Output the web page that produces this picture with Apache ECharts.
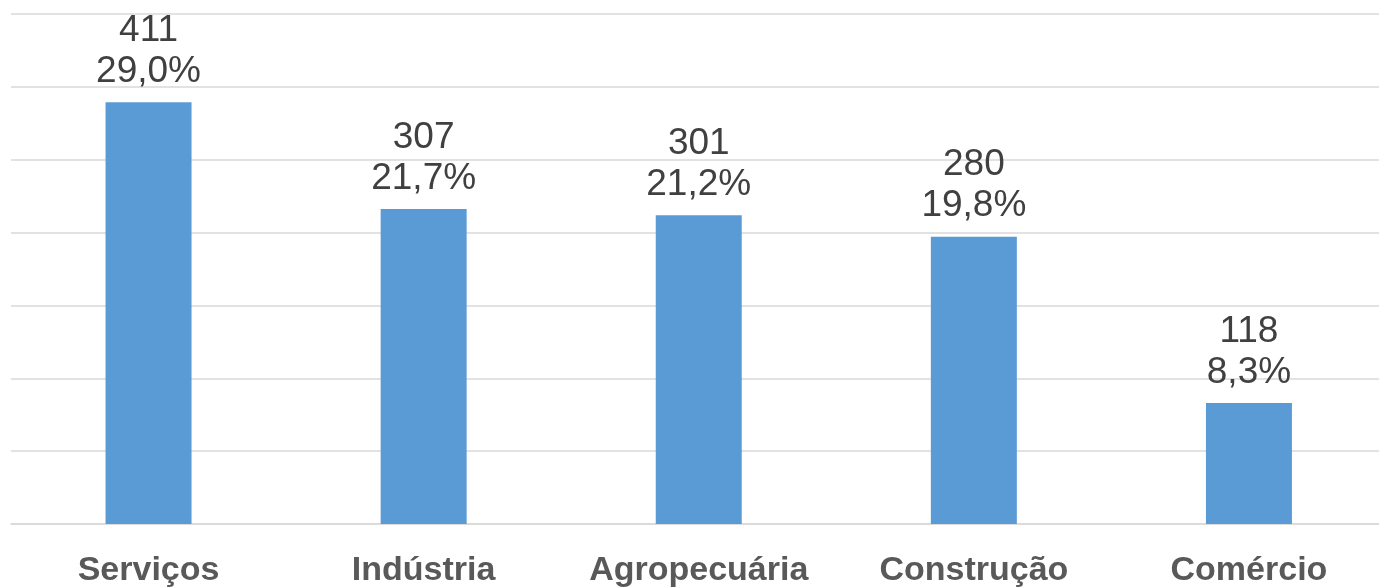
<!DOCTYPE html>
<html>
<head>
<meta charset="utf-8">
<script src="https://cdn.jsdelivr.net/npm/echarts@6/dist/echarts.min.js"></script>
<style>
html,body{margin:0;padding:0;background:#fff;overflow:hidden;}
#chart{width:1392px;height:588px;}
</style>
</head>
<body>
<div id="chart"></div>
<script>
const categories = ['Serviços', 'Indústria', 'Agropecuária', 'Construção', 'Comércio'];
const values = [411, 307, 301, 280, 118];
const percents = ['29,0%', '21,7%', '21,2%', '19,8%', '8,3%'];

const chart = echarts.init(document.getElementById('chart'), null, {renderer: 'canvas'});
chart.setOption({
  animation: false,
  grid: {left: 11, right: 5.5, top: 14, bottom: 64, containLabel: false},
  xAxis: {
    type: 'category',
    data: categories,
    axisLine: {show: true, lineStyle: {color: '#D9D9D9', width: 1.5}},
    axisTick: {show: false},
    axisLabel: {
      interval: 0,
      margin: 30,
      color: '#595959',
      fontFamily: 'Liberation Sans, Arial, sans-serif',
      fontWeight: 'bold',
      fontSize: 34
    }
  },
  yAxis: {
    type: 'value',
    min: 0,
    max: 497,
    interval: 71,
    axisLabel: {show: false},
    axisLine: {show: false},
    axisTick: {show: false},
    splitLine: {lineStyle: {color: '#D9D9D9', width: 1.5}}
  },
  series: [{
    type: 'bar',
    data: values,
    barWidth: 86,
    itemStyle: {color: '#5B9BD5'},
    label: {
      show: true,
      position: 'top',
      distance: 10,
      color: '#404040',
      fontFamily: 'Liberation Sans, Arial, sans-serif',
      fontSize: 37,
      lineHeight: 41,
      formatter: p => values[p.dataIndex] + '\n' + percents[p.dataIndex]
    }
  }]
});
</script>
</body>
</html>
